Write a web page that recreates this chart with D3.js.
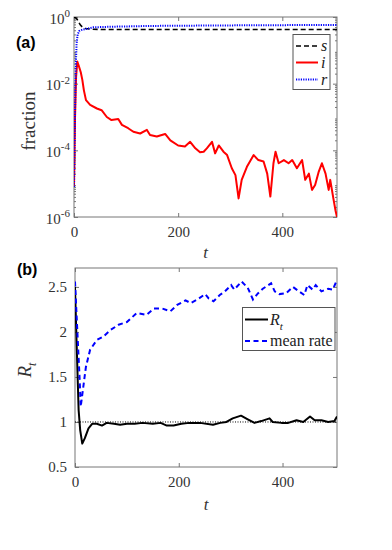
<!DOCTYPE html>
<html>
<head>
<meta charset="utf-8">
<script src="https://cdn.jsdelivr.net/npm/d3@7"></script>
<style>
  body { margin: 0; background: #fff; }
  svg { display: block; }
</style>
</head>
<body>
<div id="chart"></div>
<script>
// panel (a): fractions over time
const sT = [0, 3, 6, 9, 12, 16, 22, 35, 60, 505];
const sV = [0.99, 0.95, 0.85, 0.7, 0.58, 0.5, 0.45, 0.43, 0.42, 0.42];

const iT = [0, 2, 4, 6.3, 9, 13, 16, 19, 23, 31, 44, 53, 63, 72, 85, 92, 104, 114, 127, 140,
  146, 159, 175, 185, 200, 213, 223, 233, 242, 249, 255, 265, 271, 278, 287, 294, 303, 310,
  316, 322, 332, 345, 354, 364, 371, 377, 383, 387, 393, 403, 412, 419, 428, 438, 444, 451,
  457, 463, 470, 476, 483, 489, 492, 498, 502, 505];
const iV = [7.9e-6, 1e-3, 1.6e-2, 4.6e-2, 3.5e-2, 2.2e-2, 1.3e-2, 6.3e-3, 3.2e-3, 2.3e-3,
  1.8e-3, 1.6e-3, 1.0e-3, 8.1e-4, 8.7e-4, 5.8e-4, 4.6e-4, 3.6e-4, 3.2e-4, 4.1e-4,
  2.9e-4, 2.6e-4, 3.1e-4, 2.0e-4, 1.4e-4, 1.3e-4, 1.8e-4, 1.15e-4, 8.7e-5, 9.1e-5,
  1.15e-4, 1.8e-4, 8.1e-5, 1.4e-4, 9.1e-5, 7.2e-5, 2.9e-5, 1.8e-5, 3.6e-6, 1.3e-5,
  3.2e-5, 7.2e-5, 5.1e-5, 4.6e-5, 2.0e-5, 4.1e-6, 4.1e-5, 9.1e-5, 4.1e-5, 5.1e-5,
  4.1e-5, 5.1e-5, 2.9e-5, 5.1e-5, 1.3e-5, 2.0e-5, 6.5e-6, 9.1e-6, 2.3e-5, 4.1e-5,
  2.0e-5, 6.5e-6, 1.3e-5, 3.6e-6, 1.6e-6, 1.0e-6];

const rT = [0, 1, 2, 3, 4, 5, 7, 10, 15, 37, 69, 150, 300, 505];
const rV = [8e-6, 1e-4, 1.5e-3, 1.2e-2, 6e-2, 0.16, 0.3, 0.38, 0.41, 0.49, 0.51, 0.54, 0.56, 0.58];

// panel (b): reproduction number and mean rate
const rtT = [0, 3, 7, 10, 14, 19, 26, 33, 42, 52, 61, 75, 87, 100, 115, 130, 150, 165, 177,
  190, 205, 220, 241, 266, 280, 292, 304, 320, 333, 346, 359, 375, 381, 398, 411, 427, 440,
  453, 462, 475, 488, 500, 505];
const rtV = [2.5, 1.9, 1.13, 0.91, 0.76, 0.82, 0.93, 0.98, 0.98, 0.96, 0.99, 0.98, 0.97,
  0.98, 0.98, 0.99, 0.98, 0.99, 0.96, 0.96, 0.98, 0.99, 0.99, 0.97, 0.99, 1.0, 1.04, 1.07,
  1.03, 0.99, 1.01, 1.04, 1.0, 0.99, 0.99, 1.02, 1.0, 1.06, 1.02, 1.02, 1.0, 1.01, 1.06];

const mrT = [0, 5, 9, 11, 16, 21, 29, 42, 55, 68, 84, 100, 119, 138, 152, 168, 184, 197, 213,
  223, 236, 251, 258, 267, 279, 289, 301, 307, 321, 333, 343, 353, 362, 378, 385, 394, 407,
  420, 432, 442, 448, 458, 464, 475, 488, 497, 505];
const mrV = [2.56, 1.95, 1.47, 1.17, 1.39, 1.61, 1.8, 1.91, 1.95, 2.02, 2.08, 2.11, 2.21, 2.19,
  2.26, 2.26, 2.23, 2.3, 2.35, 2.32, 2.36, 2.42, 2.37, 2.34, 2.41, 2.45, 2.52, 2.47, 2.56,
  2.49, 2.36, 2.43, 2.48, 2.54, 2.45, 2.42, 2.43, 2.5, 2.45, 2.41, 2.52, 2.47, 2.52, 2.45,
  2.48, 2.47, 2.58];

const xTicks = [0, 200, 400];
const logTicks = [1e-6, 1e-4, 1e-2, 1];
const logLabels = ["-6", "-4", "-2", "0"];
const rTicks = [0.5, 1, 1.5, 2, 2.5];

const W = 392, H = 550;
const svg = d3.select("#chart").append("svg").attr("width", W).attr("height", H);

const serif = '"Liberation Serif", "Times New Roman", serif';
const boxColor = "#777";

function zip(a, b) {
  return a.map((d, k) => [d, b[k]]);
}

// matlab-ish tick styling
function styleAxis(a) {
  a.select(".domain").remove();
  a.attr("font-family", null).attr("font-size", null);
  a.selectAll(".tick line").attr("stroke", boxColor);
  a.selectAll(".tick text")
    .attr("fill", "#333")
    .style("font-family", serif)
    .style("font-size", "15px");
}

function drawFrame(g, x, left, right, top, bottom) {
  g.append("rect")
    .attr("x", left).attr("y", top)
    .attr("width", right - left).attr("height", bottom - top)
    .style("fill", "none").style("stroke", boxColor).style("stroke-width", 1);

  // inward ticks on all four sides
  g.append("g").attr("transform", `translate(0,${bottom})`)
    .call(d3.axisBottom(x).tickValues(xTicks).tickSize(-4).tickPadding(9))
    .call(styleAxis);
  g.append("g").attr("transform", `translate(0,${top})`)
    .call(d3.axisTop(x).tickValues(xTicks).tickSize(-4).tickFormat(""))
    .call(styleAxis);
}

// ---------- panel (a) ----------
const ax = { left: 74, right: 337, top: 17, bottom: 217 };
const xa = d3.scaleLinear().domain([0, 505]).range([ax.left, ax.right]);
const ya = d3.scaleLog().domain([1e-6, 1]).range([ax.bottom, ax.top]);

const ga = svg.append("g");
ga.append("clipPath").attr("id", "clipA").append("rect")
  .attr("x", ax.left).attr("y", ax.top)
  .attr("width", ax.right - ax.left).attr("height", ax.bottom - ax.top);

drawFrame(ga, xa, ax.left, ax.right, ax.top, ax.bottom);

const minorLog = [];
for (let e = -6; e < 0; e++) {
  for (let m = 2; m <= 9; m++) minorLog.push(m * Math.pow(10, e));
}

const yLeftA = ga.append("g").attr("transform", `translate(${ax.left},0)`)
  .call(d3.axisLeft(ya).tickValues(logTicks).tickSize(-4).tickPadding(4).tickFormat(""))
  .call(styleAxis);
yLeftA.selectAll(".tick text").each(function (d, k) {
  const t = d3.select(this);
  t.attr("dy", "0.4em");
  t.append("tspan").text("10");
  t.append("tspan").attr("dy", "-0.6em").style("font-size", "11px").text(logLabels[k]);
});
ga.append("g").attr("transform", `translate(${ax.left},0)`)
  .call(d3.axisLeft(ya).tickValues(minorLog).tickSize(-2).tickFormat(""))
  .call(styleAxis);
ga.append("g").attr("transform", `translate(${ax.right},0)`)
  .call(d3.axisRight(ya).tickValues(logTicks).tickSize(-4).tickFormat(""))
  .call(styleAxis);
ga.append("g").attr("transform", `translate(${ax.right},0)`)
  .call(d3.axisRight(ya).tickValues(minorLog).tickSize(-2).tickFormat(""))
  .call(styleAxis);

const lineA = d3.line().x((d) => xa(d[0])).y((d) => ya(d[1]));
const curvesA = ga.append("g").attr("clip-path", "url(#clipA)");
curvesA.append("path").datum(zip(iT, iV)).attr("d", lineA)
  .style("fill", "none").style("stroke", "#ff0000").style("stroke-width", 2)
  .style("stroke-linejoin", "round");
curvesA.append("path").datum(zip(sT, sV)).attr("d", lineA)
  .style("fill", "none").style("stroke", "#000").style("stroke-width", 1.6)
  .style("stroke-dasharray", "5,3");
curvesA.append("path").datum(zip(rT, rV)).attr("d", lineA)
  .style("fill", "none").style("stroke", "#0000ff").style("stroke-width", 2)
  .style("stroke-dasharray", "1.2,1.2");

// legend (a)
const legA = ga.append("g");
legA.append("rect").attr("x", 293).attr("y", 34.5).attr("width", 37).attr("height", 55)
  .style("fill", "#fff").style("stroke", "#555");
const legAItems = [
  { name: "s", color: "#000", dash: "5,3", w: 1.6, y: 46 },
  { name: "i", color: "#ff0000", dash: null, w: 2, y: 62.5 },
  { name: "r", color: "#0000ff", dash: "1.2,1.2", w: 2, y: 79.5 },
];
legAItems.forEach((d) => {
  legA.append("line").attr("x1", 296).attr("x2", 318).attr("y1", d.y).attr("y2", d.y)
    .style("stroke", d.color).style("stroke-width", d.w)
    .style("stroke-dasharray", d.dash);
  legA.append("text").attr("x", 321).attr("y", d.y + 5)
    .style("font-family", serif).style("font-style", "italic").style("font-size", "16px")
    .style("fill", "#222").text(d.name);
});

ga.append("text").attr("x", (ax.left + ax.right) / 2).attr("y", 258)
  .attr("text-anchor", "middle")
  .style("font-family", serif).style("font-style", "italic").style("font-size", "17px")
  .style("fill", "#333").text("t");
ga.append("text").attr("transform", "translate(35,121) rotate(-90)")
  .attr("text-anchor", "middle")
  .style("font-family", serif).style("font-size", "19px").style("fill", "#333")
  .text("fraction");
ga.append("text").attr("x", 16).attr("y", 48)
  .style("font-family", '"Liberation Sans", Arial, sans-serif').style("font-weight", "bold")
  .style("font-size", "16px").text("(a)");

// ---------- panel (b) ----------
const bx = { left: 75, right: 337, top: 268, bottom: 467 };
const xb = d3.scaleLinear().domain([0, 505]).range([bx.left, bx.right]);
const yb = d3.scaleLinear().domain([0.5, 2.71]).range([bx.bottom, bx.top]);

const gb = svg.append("g");
gb.append("clipPath").attr("id", "clipB").append("rect")
  .attr("x", bx.left).attr("y", bx.top)
  .attr("width", bx.right - bx.left).attr("height", bx.bottom - bx.top);

drawFrame(gb, xb, bx.left, bx.right, bx.top, bx.bottom);

gb.append("g").attr("transform", `translate(${bx.left},0)`)
  .call(d3.axisLeft(yb).tickValues(rTicks).tickSize(-4).tickPadding(8)
    .tickFormat((d) => String(d)))
  .call(styleAxis);
gb.append("g").attr("transform", `translate(${bx.right},0)`)
  .call(d3.axisRight(yb).tickValues(rTicks).tickSize(-4).tickFormat(""))
  .call(styleAxis);

const lineB = d3.line().x((d) => xb(d[0])).y((d) => yb(d[1]));
const curvesB = gb.append("g").attr("clip-path", "url(#clipB)");
curvesB.append("line")
  .attr("x1", xb(0)).attr("x2", xb(505)).attr("y1", yb(1)).attr("y2", yb(1))
  .style("stroke", "#000").style("stroke-width", 1).style("stroke-dasharray", "1,1.5");
curvesB.append("path").datum(zip(rtT, rtV)).attr("d", lineB)
  .style("fill", "none").style("stroke", "#000").style("stroke-width", 2)
  .style("stroke-linejoin", "round");
curvesB.append("path").datum(zip(mrT, mrV)).attr("d", lineB)
  .style("fill", "none").style("stroke", "#0000ff").style("stroke-width", 2)
  .style("stroke-dasharray", "5,3.5");

// legend (b)
const legB = gb.append("g");
legB.append("rect").attr("x", 242.5).attr("y", 307.5).attr("width", 92.5).attr("height", 43)
  .style("fill", "#fff").style("stroke", "#555");
legB.append("line").attr("x1", 245).attr("x2", 268).attr("y1", 319.5).attr("y2", 319.5)
  .style("stroke", "#000").style("stroke-width", 2);
const rtLab = legB.append("text").attr("x", 270).attr("y", 325)
  .style("font-family", serif).style("font-size", "16px").style("fill", "#222");
rtLab.append("tspan").style("font-style", "italic").text("R");
rtLab.append("tspan").attr("dy", 5).style("font-style", "italic").style("font-size", "11px")
  .text("t");
legB.append("line").attr("x1", 245).attr("x2", 268).attr("y1", 341).attr("y2", 341)
  .style("stroke", "#0000ff").style("stroke-width", 2).style("stroke-dasharray", "5,3.5");
legB.append("text").attr("x", 270).attr("y", 346)
  .style("font-family", serif).style("font-size", "16px").style("fill", "#222")
  .text("mean rate");

gb.append("text").attr("x", (bx.left + bx.right) / 2).attr("y", 510)
  .attr("text-anchor", "middle")
  .style("font-family", serif).style("font-style", "italic").style("font-size", "17px")
  .style("fill", "#333").text("t");
const yLabB = gb.append("text").attr("transform", "translate(31,370) rotate(-90)")
  .attr("text-anchor", "middle")
  .style("font-family", serif).style("font-size", "19px").style("fill", "#333");
yLabB.append("tspan").style("font-style", "italic").text("R");
yLabB.append("tspan").attr("dy", 5).style("font-style", "italic").style("font-size", "12px")
  .text("t");
gb.append("text").attr("x", 17).attr("y", 275)
  .style("font-family", '"Liberation Sans", Arial, sans-serif').style("font-weight", "bold")
  .style("font-size", "16px").text("(b)");
</script>
</body>
</html>
